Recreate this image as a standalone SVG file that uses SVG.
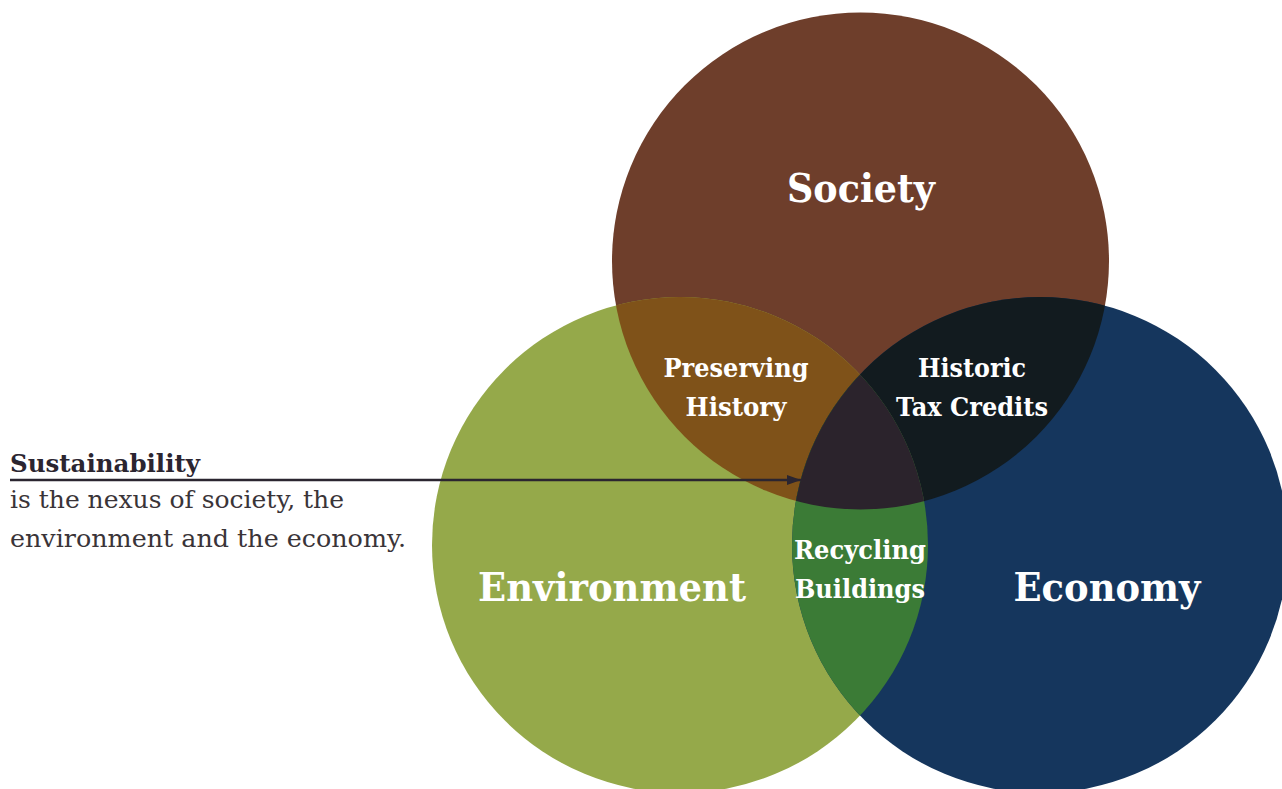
<svg xmlns="http://www.w3.org/2000/svg" width="1282" height="789" viewBox="0 0 1282 789">
<style>
.big{font-family:"DejaVu Serif",serif;font-weight:bold;font-size:39px;fill:#fff;text-anchor:middle}
.mid{font-family:"DejaVu Serif",serif;font-weight:bold;font-size:26px;fill:#fff;text-anchor:middle}
.note{font-family:"DejaVu Serif","Liberation Serif",serif;font-size:25px;fill:#3a3438;font-weight:300}
.noteb{font-family:"DejaVu Serif",serif;font-size:25px;fill:#2b2530;font-weight:bold}
</style>
<defs>
<circle id="cS" cx="860.5" cy="261" r="248.5"/>
<circle id="cEnv" cx="680" cy="545" r="248"/>
<circle id="cEco" cx="1040" cy="545" r="248"/>
<clipPath id="clipS"><use href="#cS"/></clipPath>
<clipPath id="clipEnv"><use href="#cEnv"/></clipPath>
<clipPath id="clipEco"><use href="#cEco"/></clipPath>
<marker id="arr" viewBox="0 0 14 10" refX="14" refY="5" markerWidth="14" markerHeight="10" markerUnits="userSpaceOnUse" orient="auto"><path d="M0,0 L14,5 L0,10 Z" fill="#2b2530"/></marker>
</defs>
<rect width="1282" height="789" fill="#fff"/>
<g id="society"><use href="#cS" fill="#6e3e2b"/></g>
<g id="environment"><use href="#cEnv" fill="#95a94a"/></g>
<g id="economy"><use href="#cEco" fill="#15365d"/></g>
<g id="overlaps">
<g clip-path="url(#clipS)"><use href="#cEnv" fill="#7f5219"/><use href="#cEco" fill="#121b1f"/></g>
<g clip-path="url(#clipEnv)"><use href="#cEco" fill="#3b7b36"/></g>
<g clip-path="url(#clipS)"><g clip-path="url(#clipEnv)"><use href="#cEco" fill="#2b232c"/></g></g>
</g>
<g id="labels">
<text class="big" x="861" y="202" textLength="148" lengthAdjust="spacingAndGlyphs">Society</text>
<text class="big" x="612" y="601" textLength="268" lengthAdjust="spacingAndGlyphs">Environment</text>
<text class="big" x="1107" y="601" textLength="187" lengthAdjust="spacingAndGlyphs">Economy</text>
<text class="mid" x="736" y="377" textLength="145" lengthAdjust="spacingAndGlyphs">Preserving</text>
<text class="mid" x="736" y="416" textLength="101" lengthAdjust="spacingAndGlyphs">History</text>
<text class="mid" x="972" y="377" textLength="108" lengthAdjust="spacingAndGlyphs">Historic</text>
<text class="mid" x="972" y="416" textLength="152" lengthAdjust="spacingAndGlyphs">Tax Credits</text>
<text class="mid" x="860" y="559" textLength="132" lengthAdjust="spacingAndGlyphs">Recycling</text>
<text class="mid" x="860" y="598" textLength="130" lengthAdjust="spacingAndGlyphs">Buildings</text>
</g>
<g id="note">
<text class="noteb" x="10" y="472" textLength="190" lengthAdjust="spacingAndGlyphs">Sustainability</text>
<text class="note" x="10" y="508" textLength="334" lengthAdjust="spacingAndGlyphs">is the nexus of society, the</text>
<text class="note" x="10" y="547" textLength="396" lengthAdjust="spacingAndGlyphs">environment and the economy.</text>
</g>
<g id="connectors">
<line x1="10" y1="480" x2="801" y2="480" stroke="#2b2530" stroke-width="2.5" marker-end="url(#arr)"/>
</g>
</svg>
